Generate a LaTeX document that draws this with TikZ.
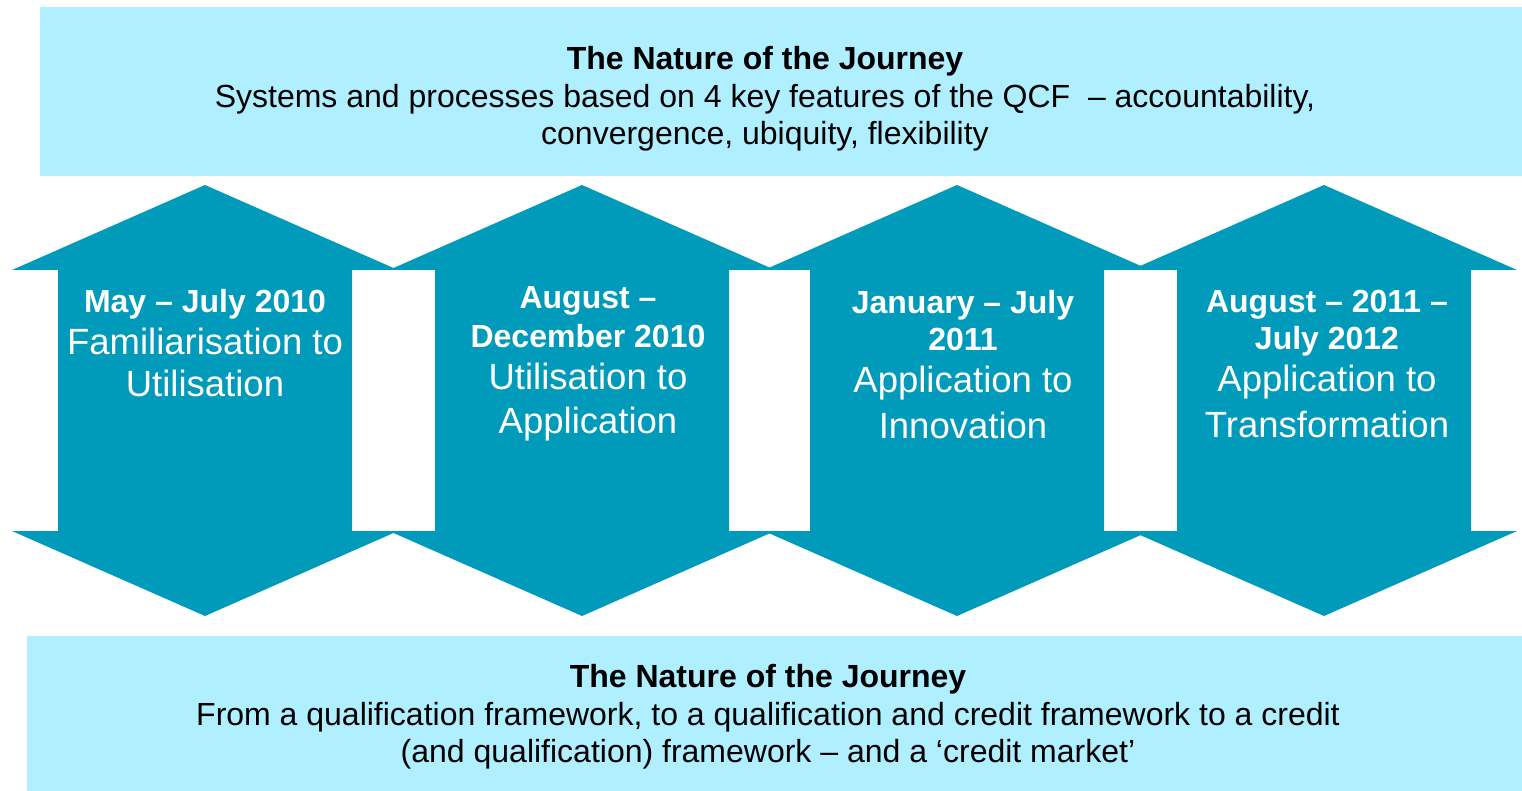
\documentclass[tikz,border=0pt]{standalone}
\usepackage{fontspec}
\setmainfont{Liberation Sans}
\definecolor{stageteal}{RGB}{0,154,187}
\definecolor{bandblue}{RGB}{175,239,255}
\newcommand\when[1]{{\bfseries\fontsize{32}{38}\selectfont #1}}
\tikzset{
  band/.style = {fill=bandblue},
  bandtext/.style = {align=center, font=\fontsize{32}{37.5}\selectfont},
  stagetext/.style = {align=center, anchor=north, text=white, font=\fontsize{36.5}{44}\selectfont}
}
\begin{document}
\begin{tikzpicture}[x=1pt, y=-1pt]
  \useasboundingbox (0,0) rectangle (1522,791);
  % bands
  \fill[band] (40,7) rectangle (1522,176);
  \fill[band] (27,636) rectangle (1522,791);
  \node[bandtext] (top) at (765,99) {\textbf{The Nature of the Journey}\\
    Systems and processes based on 4 key features of the QCF\ \ -- accountability,\\
    convergence, ubiquity, flexibility};
  \node[bandtext] (bottom) at (768,717) {\textbf{The Nature of the Journey}\\
    From a qualification framework, to a qualification and credit framework to a credit\\
    (and qualification) framework -- and a `credit market'};
  % double arrows
  \foreach \c in {205,582,957,1324}
    \fill[stageteal] (\c,185) -- (\c+193,270) -- (\c+147,270) -- (\c+147,531)
      -- (\c+193,531) -- (\c,616) -- (\c-193,531) -- (\c-147,531)
      -- (\c-147,270) -- (\c-193,270) -- cycle;
  \node[stagetext] (s1) at (205,286) {\when{May -- July 2010}\\[-2pt]
    Familiarisation to\\[-2pt] Utilisation};
  \node[stagetext] (s2) at (588,283) {\when{August --}\\[-5pt] \when{December 2010}\\[-2pt]
    Utilisation to\\ Application};
  \node[stagetext] (s3) at (963,287) {\when{January -- July}\\[-7pt] \when{2011}\\[-2pt]
    Application to\\[2pt] Innovation};
  \node[stagetext] (s4) at (1327,287) {\when{August -- 2011 --}\\[-7pt] \when{July 2012}\\[-2pt]
    Application to\\[2pt] Transformation};
\end{tikzpicture}
\end{document}
